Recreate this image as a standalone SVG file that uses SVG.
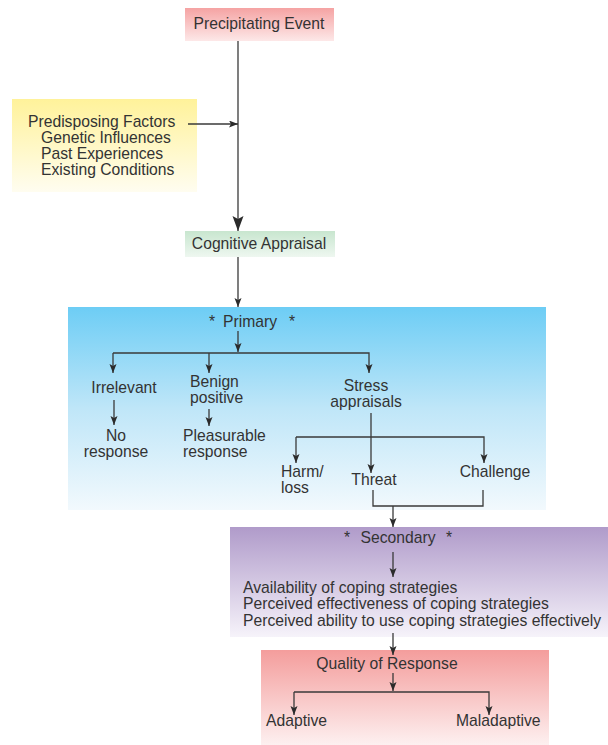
<svg xmlns="http://www.w3.org/2000/svg" width="608" height="745" viewBox="0 0 608 745">
  <defs>
    <linearGradient id="gPink" x1="0" y1="0" x2="0" y2="1">
      <stop offset="0" stop-color="#f5a3a3"/>
      <stop offset="1" stop-color="#fde8e8"/>
    </linearGradient>
    <linearGradient id="gYellow" x1="0" y1="0" x2="0" y2="1">
      <stop offset="0" stop-color="#fff29a"/>
      <stop offset="1" stop-color="#fffdf0"/>
    </linearGradient>
    <linearGradient id="gGreen" x1="0" y1="0" x2="0" y2="1">
      <stop offset="0" stop-color="#c8e6cf"/>
      <stop offset="1" stop-color="#eef7f0"/>
    </linearGradient>
    <linearGradient id="gBlue" x1="0" y1="0" x2="0" y2="1">
      <stop offset="0" stop-color="#6dcdf5"/>
      <stop offset="0.5" stop-color="#bfe6f8"/>
      <stop offset="1" stop-color="#f2f9fd"/>
    </linearGradient>
    <linearGradient id="gPurple" x1="0" y1="0" x2="0" y2="1">
      <stop offset="0" stop-color="#b09bca"/>
      <stop offset="1" stop-color="#f6f3fa"/>
    </linearGradient>
    <linearGradient id="gRed" x1="0" y1="0" x2="0" y2="1">
      <stop offset="0" stop-color="#f49d9c"/>
      <stop offset="1" stop-color="#fdf0f0"/>
    </linearGradient>
    <marker id="arr" markerUnits="userSpaceOnUse" markerWidth="10" markerHeight="8" refX="9" refY="3.5" orient="auto">
      <path d="M0,0 L9,3.5 L0,7 L2,3.5 z" fill="#2b2b2b"/>
    </marker>
    <marker id="arrBig" markerUnits="userSpaceOnUse" markerWidth="16" markerHeight="12" refX="15" refY="5.5" orient="auto">
      <path d="M0,0 L15,5.5 L0,11 L3,5.5 z" fill="#2b2b2b"/>
    </marker>
  </defs>
  <style>
    text { font-family: "Liberation Sans", Arial, sans-serif; font-size: 15.7px; fill: #333; }
    .c { text-anchor: middle; }
    .ln { fill: none; stroke: #3a3a3a; stroke-width: 1.3; }
    .a { marker-end: url(#arr); }
  </style>

  <!-- panels -->
  <g id="precipitating-event">
    <rect x="185" y="8" width="149" height="33" fill="url(#gPink)"/>
    <text x="259" y="29" class="c">Precipitating Event</text>
  </g>
  <g id="predisposing-factors">
    <rect x="12" y="99" width="185" height="93" fill="url(#gYellow)"/>
    <text x="28" y="127">Predisposing Factors</text>
    <text x="41" y="143">Genetic Influences</text>
    <text x="41" y="159">Past Experiences</text>
    <text x="41" y="175">Existing Conditions</text>
  </g>
  <g id="cognitive-appraisal">
    <rect x="185" y="231" width="150" height="26" fill="url(#gGreen)"/>
    <text x="259" y="249" class="c">Cognitive Appraisal</text>
  </g>
  <g id="primary">
    <rect x="68" y="307" width="478" height="203" fill="url(#gBlue)"/>
    <text x="209" y="327">*</text>
    <text x="250" y="327" class="c">Primary</text>
    <text x="289" y="327">*</text>
    <text x="124" y="393" class="c">Irrelevant</text>
    <text x="190" y="387">Benign</text>
    <text x="190" y="403">positive</text>
    <text x="366" y="391" class="c">Stress</text>
    <text x="366" y="407" class="c">appraisals</text>
    <text x="116" y="441" class="c">No</text>
    <text x="116" y="457" class="c">response</text>
    <text x="183" y="441">Pleasurable</text>
    <text x="183" y="457">response</text>
    <text x="281" y="477">Harm/</text>
    <text x="281" y="493">loss</text>
    <text x="374" y="485" class="c">Threat</text>
    <text x="495" y="477" class="c">Challenge</text>
  </g>
  <g id="secondary">
    <rect x="230" y="527" width="378" height="110" fill="url(#gPurple)"/>
    <text x="344" y="543">*</text>
    <text x="398" y="543" class="c">Secondary</text>
    <text x="446" y="543">*</text>
    <text x="243" y="593">Availability of coping strategies</text>
    <text x="243" y="609">Perceived effectiveness of coping strategies</text>
    <text x="243" y="626">Perceived ability to use coping strategies effectively</text>
  </g>
  <g id="quality-of-response">
    <rect x="261" y="650" width="288" height="95" fill="url(#gRed)"/>
    <text x="387" y="669" class="c">Quality of Response</text>
    <text x="266" y="726">Adaptive</text>
    <text x="456" y="726">Maladaptive</text>
  </g>

  <!-- connectors -->
  <g id="connectors">
    <line x1="238" y1="41" x2="238" y2="231" class="ln" marker-end="url(#arrBig)"/>
    <line x1="188" y1="124" x2="238" y2="124" class="ln a"/>
    <line x1="238" y1="257" x2="238" y2="307" class="ln a"/>
    <line x1="238" y1="331" x2="238" y2="352" class="ln a"/>
    <polyline points="113,353 369,353 369,373" class="ln a"/>
    <line x1="113" y1="353" x2="113" y2="373" class="ln a"/>
    <line x1="209" y1="353" x2="209" y2="373" class="ln a"/>
    <line x1="114" y1="400" x2="114" y2="425" class="ln a"/>
    <line x1="209" y1="409" x2="209" y2="426" class="ln a"/>
    <line x1="371" y1="413" x2="371" y2="473" class="ln a"/>
    <polyline points="296,437 484,437 484,463" class="ln a"/>
    <line x1="296" y1="437" x2="296" y2="463" class="ln a"/>
    <polyline points="373,490 373,506 483,506 483,490" class="ln"/>
    <line x1="393" y1="506" x2="393" y2="527" class="ln a"/>
    <line x1="393" y1="552" x2="393" y2="577" class="ln a"/>
    <line x1="393" y1="633" x2="393" y2="655" class="ln a"/>
    <line x1="393" y1="673" x2="393" y2="691" class="ln a"/>
    <polyline points="294,692 489,692 489,715" class="ln a"/>
    <line x1="294" y1="692" x2="294" y2="715" class="ln a"/>
  </g>
</svg>
